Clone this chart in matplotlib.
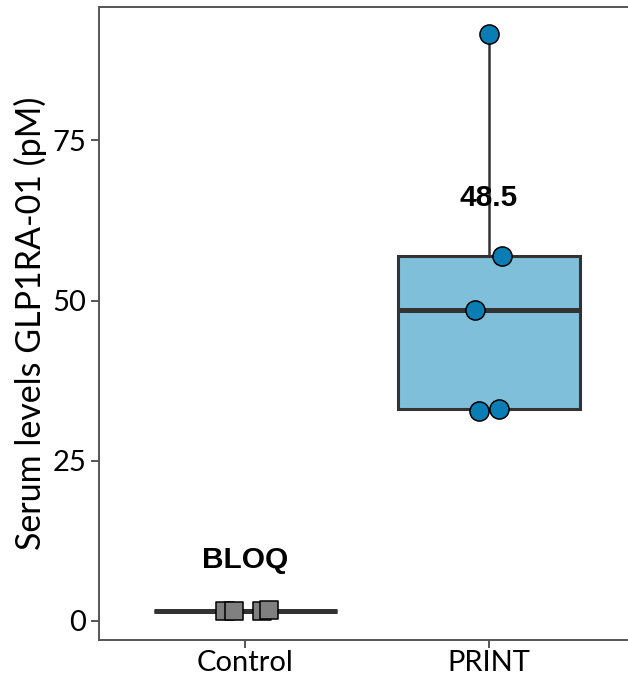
import matplotlib
matplotlib.use("Agg")
import matplotlib.pyplot as plt

# serum levels per group (pM)
groups = ["Control", "PRINT"]
control_vals = [1.56, 1.56, 1.56, 1.75]
control_x = [0.918, 0.955, 1.070, 1.098]
print_vals = [91.6, 56.9, 48.5, 33.0, 32.7]
print_x = [2.0, 2.053, 1.943, 2.041, 1.959]
labels = ["BLOQ", "48.5"]
label_y = [9.5, 66.0]

plt.rcParams["font.family"] = ["Lato", "DejaVu Sans"]

fig = plt.figure(figsize=(6.28, 6.80), dpi=100)
ax = fig.add_axes([99 / 628, 40 / 680, 1 - 99 / 628, 633 / 680])

line_col = "#333333"
bp = ax.boxplot([control_vals, print_vals], positions=[1, 2], widths=0.75,
                patch_artist=True, showfliers=False, whis=1.5,
                boxprops=dict(linewidth=2.2, edgecolor=line_col),
                medianprops=dict(linewidth=3.6, color=line_col),
                whiskerprops=dict(linewidth=1.8, color=line_col),
                capprops=dict(linewidth=0))
bp["boxes"][0].set_facecolor("#9a9a9a")
bp["boxes"][1].set_facecolor("#7fbfd9")

# individual animals on top of the boxes
ax.scatter(control_x, control_vals, marker="s", s=150, color="#808080",
           edgecolors="black", linewidths=1.1, zorder=3)
ax.scatter(print_x, print_vals, marker="o", s=190, color="#0a7db4",
           edgecolors="black", linewidths=1.1, zorder=3)

for xi, lab, yi in zip([1, 2], labels, label_y):
    ax.text(xi, yi, lab, ha="center", va="center", fontsize=21.5,
            fontweight="bold", family="Liberation Sans", zorder=4)

ax.set_xlim(0.4016, 2.5697)
ax.set_ylim(-2.97, 95.8)
ax.set_xticks([1, 2])
ax.set_xticklabels(groups)
ax.set_yticks([0, 25, 50, 75])
ax.set_ylabel("Serum levels GLP1RA-01 (pM)", fontsize=24.5, labelpad=4)
ax.tick_params(labelsize=21, length=6, width=1.4, color="#555555", pad=3)
ax.tick_params(axis="x", pad=1.5)
for side in ["left", "bottom", "top"]:
    ax.spines[side].set_linewidth(1.4)
    ax.spines[side].set_color("#555555")
ax.spines["right"].set_visible(False)

fig.savefig("out.png", dpi=100)
